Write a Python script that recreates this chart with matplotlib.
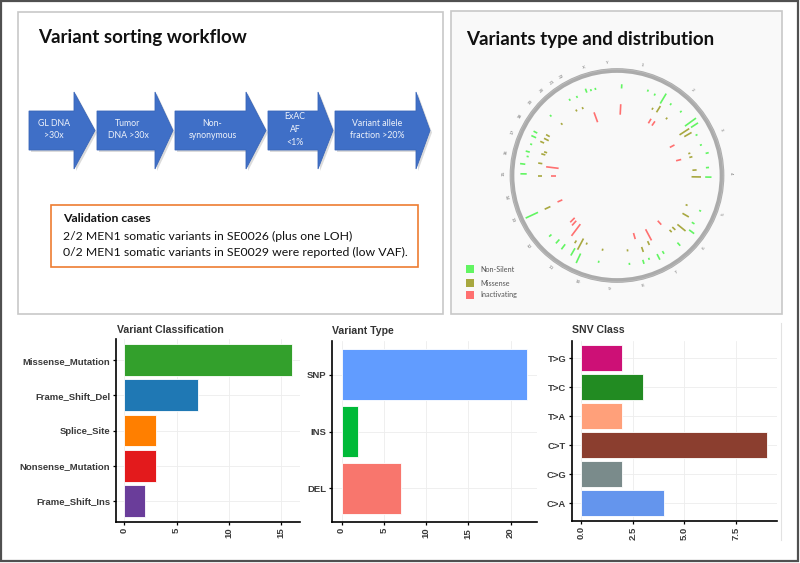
import numpy as np
import matplotlib
matplotlib.use("Agg")
import matplotlib.pyplot as plt
from matplotlib.patches import Rectangle, Polygon, Circle

# ---------------- data ----------------
workflow_steps = ["GL DNA\n>30x", "Tumor\nDNA >30x", "Non-\nsynonymous", "ExAC\nAF\n<1%",
                  "Variant allele\nfraction >20%"]
validation_title = "Validation cases"
validation_lines = ["2/2 MEN1 somatic variants in SE0026 (plus one LOH)",
                    "0/2 MEN1 somatic variants in SE0029 were reported (low VAF)."]

vc_labels = ["Missense_Mutation", "Frame_Shift_Del", "Splice_Site", "Nonsense_Mutation", "Frame_Shift_Ins"]
vc_values = [16, 7, 3, 3, 2]
vc_colors = ["#33A02C", "#1F78B4", "#FF7F00", "#E31A1C", "#6A3D9A"]

vt_labels = ["SNP", "INS", "DEL"]
vt_values = [22, 2, 7]
vt_colors = ["#619CFF", "#00BA38", "#F8766D"]

snv_labels = ["T>G", "T>C", "T>A", "C>T", "C>G", "C>A"]
snv_values = [2, 3, 2, 9, 2, 4]
snv_colors = ["#CD1076", "#228B22", "#FFA07A", "#8B3E2F", "#7A8B8B", "#6495ED"]

# circos: chromosome labels and their angles (deg, clockwise from top)
chrom_labels = ["1", "2", "3", "4", "5", "6", "7", "8", "9", "10", "11", "12", "13", "14",
                "15", "16", "17", "18", "19", "20", "21", "22", "X", "Y"]
chrom_angles = [12.7, 41.4, 66.5, 89, 110, 130, 148.6, 167, 183.7, 200.5, 215.8, 231.3, 246.8,
                259, 271.2, 281.9, 292.6, 301.7, 310.3, 318.3, 325.1, 330.9, 342.9, 354.9]

# variant marks: angle (deg), inner radius, outer radius (fraction of ring radius), class
mark_angle = [3, 3, -20, -20, -17, -14, -32, -27, -32, -27, -48, -47,
              -65, -62, -70, -75, -78, -66, -63, -60, -74, -72, -81, -89, -83, -90, -83, -90,
              -115, -115, -114, -135, -138, -143, -132, -138, -143, -150, -155, -152, -148, -156, -169, -168,
              164, 152, 172, 172, 161, 163, 159, 155, 153, 149, 138, 136, 133, 138, 129, 127, 120, 122, 113, 113,
              91, 91, 86, 85, 73, 76, 70, 76, 76, 62, 57, 60, 54, 57, 63,
              31, 35, 32, 41, 28, 31, 20, 25, 37, 45]
mark_r0 = [0.83, 0.58, 0.54, 0.84, 0.84, 0.84, 0.84, 0.83, 0.72, 0.71, 0.84, 0.71,
           0.85, 0.86, 0.86, 0.86, 0.86, 0.76, 0.73, 0.74, 0.71, 0.70, 0.72, 0.86, 0.88, 0.71, 0.56, 0.58,
           0.83, 0.70, 0.57, 0.57, 0.58, 0.58, 0.84, 0.82, 0.82, 0.80, 0.82, 0.68, 0.73, 0.70, 0.71, 0.83,
           0.57, 0.58, 0.71, 0.84, 0.72, 0.84, 0.84, 0.69, 0.84, 0.84, 0.58, 0.72, 0.72, 0.86, 0.74, 0.86, 0.72, 0.84, 0.85, 0.71,
           0.71, 0.84, 0.72, 0.85, 0.71, 0.71, 0.84, 0.87, 0.58, 0.57, 0.71, 0.74, 0.80, 0.84, 0.84,
           0.58, 0.58, 0.71, 0.71, 0.71, 0.80, 0.85, 0.84, 0.84, 0.85]
mark_r1 = [0.87, 0.68, 0.64, 0.88, 0.86, 0.86, 0.86, 0.85, 0.74, 0.73, 0.86, 0.73,
           0.90, 0.90, 0.88, 0.90, 0.88, 0.80, 0.78, 0.78, 0.75, 0.73, 0.76, 0.92, 0.93, 0.75, 0.68, 0.63,
           0.96, 0.76, 0.62, 0.63, 0.64, 0.72, 0.87, 0.87, 0.88, 0.88, 0.92, 0.80, 0.76, 0.72, 0.73, 0.85,
           0.63, 0.70, 0.73, 0.86, 0.77, 0.88, 0.86, 0.73, 0.90, 0.87, 0.63, 0.75, 0.76, 0.90, 0.84, 0.92, 0.79, 0.87, 0.87, 0.73,
           0.80, 0.90, 0.76, 0.88, 0.73, 0.74, 0.86, 0.90, 0.63, 0.62, 0.82, 0.82, 0.93, 0.92, 0.86,
           0.63, 0.63, 0.78, 0.73, 0.73, 0.91, 0.87, 0.86, 0.86, 0.87]
mark_class = ["N", "I", "I", "N", "N", "N", "N", "N", "M", "M", "N", "M",
              "N", "N", "N", "N", "N", "M", "M", "M", "M", "M", "M", "N", "N", "M", "I", "I",
              "N", "M", "I", "I", "I", "I", "N", "N", "N", "N", "N", "M", "M", "M", "M", "N",
              "I", "I", "M", "N", "M", "N", "N", "M", "N", "N", "I", "M", "M", "N", "M", "N", "M", "N", "N", "M",
              "M", "N", "M", "N", "M", "M", "N", "N", "I", "I", "M", "M", "N", "N", "N",
              "I", "I", "M", "M", "M", "N", "N", "N", "N", "N"]
class_names = {"N": "Non-Silent", "M": "Missense", "I": "Inactivating"}
class_colors = {"N": "#62F562", "M": "#A8A840", "I": "#FF7070"}

# ---------------- figure ----------------
W, H = 800, 563
fig = plt.figure(figsize=(W / 100, H / 100), dpi=100)
bg = fig.add_axes([0, 0, 1, 1])
bg.set_xlim(0, W)
bg.set_ylim(H, 0)
bg.axis("off")

# outer frame
bg.add_patch(Rectangle((1, 1), 797, 560, fill=False, ec="#505050", lw=1.6))

# ---- top-left panel ----
bg.add_patch(Rectangle((18, 12), 425, 302, fc="white", ec="#C8C8C8", lw=1.2))
bg.text(38, 38, "Variant sorting workflow", fontsize=13.5, fontweight="bold",
        family="Lato", va="center", ha="left", color="#111111")

arrows = [(29, 74, 95), (97, 155, 173), (175, 246, 266), (268, 318, 333), (335, 416, 430)]
body_top, body_bot, tip_top, tip_bot = 111, 150, 92, 169
mid = (tip_top + tip_bot) / 2
for (x0, xh, xt), label in zip(arrows, workflow_steps):
    pts = [(x0, body_top), (xh, body_top), (xh, tip_top), (xt, mid), (xh, tip_bot), (xh, body_bot), (x0, body_bot)]
    shadow = [(x + 2, y + 2) for x, y in pts]
    bg.add_patch(Polygon(shadow, closed=True, fc="#9A9A9A", ec="none", alpha=0.35))
    bg.add_patch(Polygon(pts, closed=True, fc="#3F6FC7", ec="#3A66B8", lw=0.6))
    cx = (x0 + xh) / 2 + 2
    bg.text(cx, mid - 1, label, fontsize=6.3, family="Lato", color="#EEF2FA",
            ha="center", va="center", linespacing=1.55)

bg.add_patch(Rectangle((51, 205), 367, 62, fill=False, ec="#ED7D31", lw=1.2))
bg.text(63, 219, validation_title, fontsize=8.8, fontweight="bold", family="Lato",
        va="center", ha="left", color="#111111")
for i, line in enumerate(validation_lines):
    bg.text(63, 236 + 16.5 * i, line, fontsize=8.8, family="Lato", va="center",
            ha="left", color="#111111")

# ---- top-right panel ----
bg.add_patch(Rectangle((451, 11), 331, 303, fc="#F9F9F9", ec="#C8C8C8", lw=1.2))
bg.text(466, 39, "Variants type and distribution", fontsize=13.5, fontweight="bold",
        family="Lato", va="center", ha="left", color="#111111")

cx, cy, R = 617, 175.5, 105
bg.add_patch(Circle((cx, cy), R, fill=False, ec="#ABABAB", lw=3.4))
bg.add_patch(Circle((cx, cy), R + 1.2, fill=False, ec="#BDBDBD", lw=0.5))

for a, r0, r1, c in zip(mark_angle, mark_r0, mark_r1, mark_class):
    t = np.deg2rad(a)
    xs = [cx + r0 * R * np.sin(t), cx + r1 * R * np.sin(t)]
    ys = [cy - r0 * R * np.cos(t), cy - r1 * R * np.cos(t)]
    bg.plot(xs, ys, color=class_colors[c], lw=1.2, solid_capstyle="butt")

for lab, a in zip(chrom_labels, chrom_angles):
    t = np.deg2rad(a)
    rr = R * 1.08
    rot = -a
    if 90 < a < 270:
        rot += 180
    bg.text(cx + rr * np.sin(t), cy - rr * np.cos(t), lab, fontsize=3.2, color="#777777",
            ha="center", va="center", rotation=rot)

leg_y = [269, 283, 295]
for y, c in zip(leg_y, ["N", "M", "I"]):
    bg.add_patch(Rectangle((466, y - 4), 7.5, 7.5, fc=class_colors[c], ec="none"))
    bg.text(480, y, class_names[c], fontsize=5.2, color="#555555", va="center", ha="left",
            family="Lato")

# faint line right of SNV panel
bg.plot([781, 781], [323, 540], color="#E2E2E2", lw=0.8)


# ---------------- bar charts ----------------
def px_axes(left, right, top, bottom):
    return fig.add_axes([left / W, 1 - bottom / H, (right - left) / W, (bottom - top) / H])


def bar_panel(ax, labels, values, colors, xlim, ticks, ticklabels, title, title_x, title_y):
    n = len(labels)
    ypos = np.arange(n, 0, -1)
    ax.set_facecolor("white")
    ax.barh(ypos, values, height=0.9, color=colors, edgecolor="white", linewidth=0.6, zorder=3)
    ax.set_xlim(*xlim)
    ax.set_ylim(0.4, n + 0.6)
    ax.set_yticks(ypos)
    ax.set_yticklabels(labels, fontsize=6.8, fontweight="bold", color="#3A3A3A",
                       family="Liberation Sans")
    ax.set_xticks(ticks)
    ax.set_xticklabels(ticklabels, fontsize=6.8, fontweight="bold", color="#3A3A3A",
                       rotation=90, family="Liberation Sans")
    ax.grid(True, color="#EDEDED", lw=0.6, zorder=0)
    for s in ["top", "right"]:
        ax.spines[s].set_visible(False)
    for s in ["left", "bottom"]:
        ax.spines[s].set_linewidth(1.2)
        ax.spines[s].set_color("black")
    ax.tick_params(axis="both", length=2.5, width=0.9, color="black", pad=1.5)
    bg.text(title_x, title_y, title, fontsize=7.6, fontweight="bold", color="#333333",
            family="Liberation Sans", va="center", ha="left")


ax1 = px_axes(116, 300, 339, 522)
bar_panel(ax1, vc_labels, vc_values, vc_colors, (-0.8, 16.8), [0, 5, 10, 15],
          ["0", "5", "10", "15"], "Variant Classification", 117, 330)

ax2 = px_axes(332.3, 536.7, 341, 522.3)
bar_panel(ax2, vt_labels, vt_values, vt_colors, (-1.1, 23.1), [0, 5, 10, 15, 20],
          ["0", "5", "10", "15", "20"], "Variant Type", 332, 331.5)

ax3 = px_axes(571.7, 776.5, 341, 520.7)
bar_panel(ax3, snv_labels, snv_values, snv_colors, (-0.45, 9.45), [0, 2.5, 5.0, 7.5],
          ["0.0", "2.5", "5.0", "7.5"], "SNV Class", 572, 330)

fig.savefig("out.png", dpi=100)
